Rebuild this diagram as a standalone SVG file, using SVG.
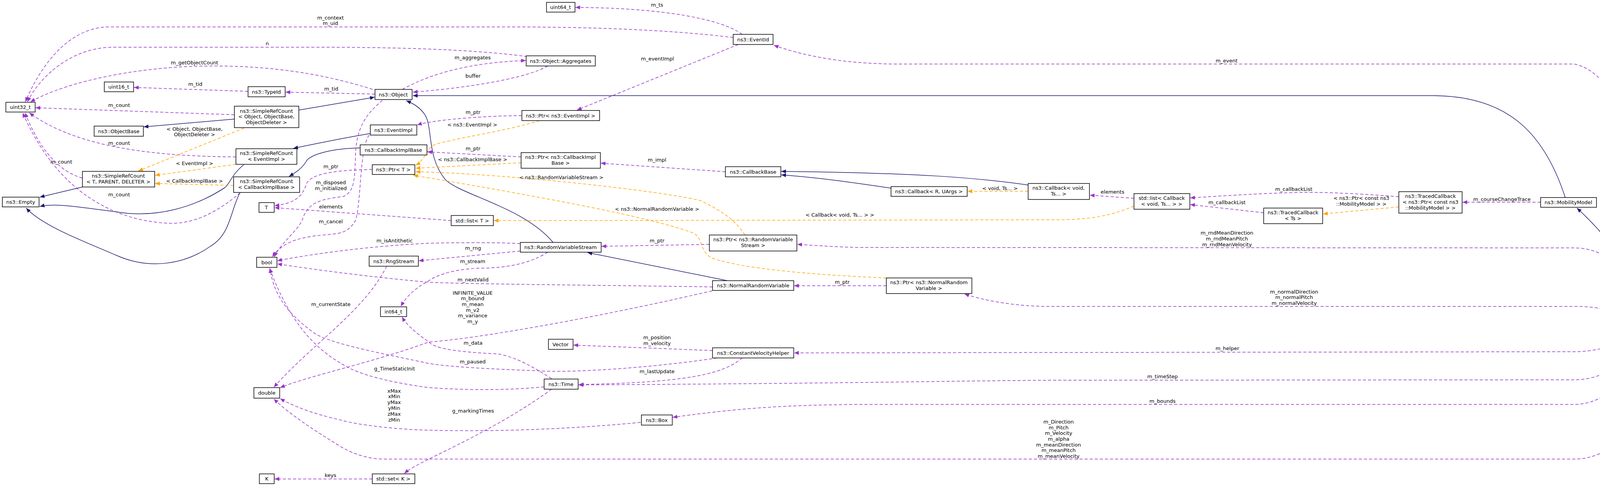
<svg xmlns="http://www.w3.org/2000/svg" width="4339" height="1245" viewBox="0 0 4339 1245">
<defs>
<marker id="mp" viewBox="0 0 12 10" refX="12" refY="5" markerWidth="12" markerHeight="10" markerUnits="userSpaceOnUse" orient="auto"><path d="M0,0 L12,5 L0,10 z" fill="#9a32cd"/></marker>
<marker id="mb" viewBox="0 0 12 10" refX="12" refY="5" markerWidth="12" markerHeight="10" markerUnits="userSpaceOnUse" orient="auto"><path d="M0,0 L12,5 L0,10 z" fill="#191970"/></marker>
<marker id="mo" viewBox="0 0 12 10" refX="12" refY="5" markerWidth="12" markerHeight="10" markerUnits="userSpaceOnUse" orient="auto"><path d="M0,0 L12,5 L0,10 z" fill="#ffa500"/></marker>
</defs>
<style>
text{font-family:"DejaVu Sans","Liberation Sans",sans-serif;font-size:13px;fill:#000;text-anchor:middle}
.n rect{fill:#fff;stroke:#000;stroke-width:1.5}
.u{fill:none;stroke:#9a32cd;stroke-width:1.5;stroke-dasharray:8,5;marker-end:url(#mp)}
.i{fill:none;stroke:#191970;stroke-width:1.5;marker-end:url(#mb)}
.t{fill:none;stroke:#ffa500;stroke-width:1.5;stroke-dasharray:8,5;marker-end:url(#mo)}
</style>
<rect width="4339" height="1245" fill="#fff"/>
<g id="connectors">
<path class="u" d="M1877,96 C1700,75 1500,69 1300,69 L280,69 C160,69 90,200 65,261"/>
<text x="846" y="50">m_context</text><text x="846" y="64">m_uid</text>
<path class="u" d="M1350,145 C1200,125 1000,121 800,121 L290,121 C180,121 100,200 70,261"/>
<text x="684" y="116">n</text>
<path class="u" d="M954,229 C800,180 650,165 491,170 C300,178 150,220 78,261"/>
<text x="498" y="165">m_getObjectCount</text>
<path class="u" d="M635,234 L343,224"/><text x="500" y="220">m_tid</text>
<path class="u" d="M960,241 L731,236"/><text x="848" y="232">m_tid</text>
<path class="u" d="M600,294 L91,276"/><text x="305" y="274">m_count</text>
<path class="u" d="M604,402 C400,400 200,380 75,289"/><text x="305" y="371">m_count</text>
<path class="u" d="M211,456 C150,440 100,380 64,289"/><text x="157" y="419">m_count</text>
<path class="u" d="M615,494 C560,540 500,575 430,572 C300,565 150,500 58,289"/><text x="305" y="503">m_count</text>
<path class="u" d="M1030,229 C1100,190 1200,160 1346,155"/><text x="1210" y="152">m_aggregates</text>
<path class="u" d="M1402,169 C1350,200 1200,225 1057,236"/><text x="1211" y="199">buffer</text>
<path class="u" d="M1900,88 C1850,50 1700,20 1473,19"/><text x="1682" y="17">m_ts</text>
<path class="u" d="M1890,114 L1477,282"/><text x="1683" y="155">m_eventImpl</text>
<path class="u" d="M4232,824 C4215,600 4200,200 4030,164 L2300,164 C2150,164 2050,140 1981,116"/><text x="3140" y="160">m_event</text>
<path class="i" d="M4007,506 C3950,330 3850,245 3666,245 L1057,245"/>
<path class="i" d="M4226,823 C4190,700 4120,610 4037,533"/>
<path class="i" d="M765,282 L959,249"/>
<path class="i" d="M600,305 L368,325"/>
<path class="i" d="M211,479 L102,505"/>
<path class="i" d="M624,422 C590,450 590,470 575,481 C500,530 400,560 300,543 C200,530 140,520 102,529"/>
<path class="i" d="M614,494 C590,540 590,600 540,630 C470,680 380,690 300,655 C220,620 110,580 67,533"/>
<path class="i" d="M948,342 C870,355 800,370 751,380"/>
<path class="i" d="M922,379 C850,380 800,395 786,410 C775,430 760,440 740,452"/>
<path class="i" d="M1416,621 C1340,530 1180,500 1140,460 C1090,400 1110,320 1085,290 C1070,270 1050,262 1040,258"/>
<path class="i" d="M1862,719 L1504,647"/>
<path class="i" d="M2632,474 C2500,455 2350,443 2000,439"/>
<path class="i" d="M2281,482 C2200,470 2100,455 2000,448"/>
<path class="t" d="M625,328 L354,438"/><text x="498" y="335">&lt; Object, ObjectBase,</text><text x="498" y="349">ObjectDeleter &gt;</text>
<path class="t" d="M604,421 L397,449"/><text x="498" y="423">&lt; EventImpl &gt;</text>
<path class="t" d="M598,475 L397,470"/><text x="498" y="468">&lt; CallbackImplBase &gt;</text>
<path class="t" d="M1381,309 C1300,335 1160,355 1114,370 C1090,380 1090,410 1064,423"/><text x="1209" y="324">&lt; ns3::EventImpl &gt;</text>
<path class="t" d="M1334,417 L1064,431"/><text x="1210" y="413">&lt; ns3::CallbackImplBase &gt;</text>
<path class="t" d="M1907,602 C1880,560 1844,539 1794,514 C1700,490 1300,445 1064,440"/><text x="1437" y="459">&lt; ns3::RandomVariableStream &gt;</text>
<path class="t" d="M2269,712 C2100,705 1900,690 1820,660 C1790,640 1800,610 1775,597 C1650,550 1300,490 1058,449"/><text x="1682" y="540">&lt; ns3::NormalRandomVariable &gt;</text>
<path class="t" d="M2903,528 C2850,550 2800,563 2700,563 L1500,565 L1264,565"/><text x="2150" y="555">&lt; Callback&lt; void, Ts... &gt; &gt;</text>
<path class="t" d="M2632,490 L2477,490"/><text x="2560" y="487">&lt; void, Ts... &gt;</text>
<path class="t" d="M3581,530 L3387,548"/><text x="3485" y="512">&lt; ns3::Ptr&lt; const ns3</text><text x="3485" y="527">::MobilityModel &gt; &gt;</text>
<path class="u" d="M1336,296 C1200,298 1100,310 1068,320"/><text x="1211" y="292">m_ptr</text>
<path class="u" d="M1334,402 L1094,389"/><text x="1211" y="385">m_ptr</text>
<path class="u" d="M953,434 C880,436 800,440 785,470 C775,500 760,520 703,527"/><text x="847" y="431">m_ptr</text>
<path class="u" d="M979,257 C940,290 912,323 910,400 C908,470 905,490 880,503 C830,510 790,514 775,560 C765,590 720,620 702,658"/><text x="847" y="472">m_disposed</text><text x="847" y="487">m_initialized</text>
<path class="u" d="M945,346 C920,380 925,520 910,565 C895,590 880,597 850,600 C790,605 730,610 697,658"/><text x="847" y="572">m_cancel</text>
<path class="u" d="M1155,565 L703,532"/><text x="847" y="534">elements</text>
<path class="u" d="M1332,624 C1250,620 1150,622 1100,623 C950,630 800,650 710,668"/><text x="1010" y="621">m_isAntithetic</text>
<path class="u" d="M1332,643 L1072,668"/><text x="1211" y="640">m_rng</text>
<path class="u" d="M1402,646 C1350,680 1280,687 1226,687 C1150,690 1110,710 1098,719 C1060,740 1040,760 1026,785"/><text x="1210" y="674">m_stream</text>
<path class="u" d="M1824,735 C1500,730 1200,728 1098,723 C950,710 800,690 710,676"/><text x="1211" y="721">m_nextValid</text>
<path class="u" d="M1823,745 C1500,820 1200,870 1098,876 C950,930 800,960 717,993"/><text x="1210" y="755">INFINITE_VALUE</text><text x="1210" y="769">m_bound</text><text x="1210" y="784">m_mean</text><text x="1210" y="799">m_v2</text><text x="1210" y="813">m_variance</text><text x="1210" y="828">m_y</text>
<path class="u" d="M990,682 C930,800 800,880 701,992"/><text x="847" y="784">m_currentState</text>
<path class="u" d="M1412,970 C1350,930 1300,906 1261,906 C1150,900 1110,890 1098,876 C1060,850 1040,830 1029,812"/><text x="1211" y="883">m_data</text>
<path class="u" d="M1824,898 L1468,884"/><text x="1682" y="869">m_position</text><text x="1682" y="884">m_velocity</text>
<path class="u" d="M1836,917 C1650,945 1450,955 1381,950 C1250,945 1150,940 1098,931 C950,900 850,880 807,855 C730,800 700,750 691,687"/><text x="1210" y="931">m_paused</text>
<path class="u" d="M1900,917 C1850,960 1750,980 1482,985"/><text x="1682" y="956">m_lastUpdate</text>
<path class="u" d="M1393,991 C1300,1000 1200,1000 1098,993 C1000,980 920,960 880,935 C800,890 740,820 690,687"/><text x="1010" y="949">g_TimeStaticInit</text>
<path class="u" d="M1412,997 C1300,1080 1150,1150 1098,1176 C1070,1190 1050,1200 1035,1213"/><text x="1211" y="1057">g_markingTimes</text>
<path class="u" d="M953,1227 L703,1227"/><text x="846" y="1222">keys</text>
<path class="u" d="M1640,1082 C1400,1105 1200,1105 1098,1102 C1000,1100 900,1085 877,1077 C800,1060 750,1040 717,1021"/><text x="1009" y="1006">xMax</text><text x="1009" y="1020">xMin</text><text x="1009" y="1035">yMax</text><text x="1009" y="1050">yMin</text><text x="1009" y="1065">zMax</text><text x="1009" y="1080">zMin</text>
<path class="u" d="M4224,864 C4210,1000 4180,1176 4028,1176 L982,1176 C940,1176 900,1160 877,1147 C800,1100 740,1060 701,1022"/><text x="2710" y="1085">m_Direction</text><text x="2710" y="1100">m_Pitch</text><text x="2710" y="1114">m_Velocity</text><text x="2710" y="1129">m_alpha</text><text x="2710" y="1144">m_meanDirection</text><text x="2710" y="1158">m_meanPitch</text><text x="2710" y="1173">m_meanVelocity</text>
<path class="u" d="M4215,824 C4180,700 4120,635 4028,635 L2200,634 C2120,632 2080,628 2041,626"/><text x="3141" y="601">m_rndMeanDirection</text><text x="3141" y="616">m_rndMeanPitch</text><text x="3141" y="631">m_rndMeanVelocity</text>
<path class="u" d="M4188,824 C4120,790 4080,785 4035,785 L2685,785 C2600,785 2520,770 2469,753"/><text x="3313" y="752">m_normalDirection</text><text x="3313" y="766">m_normalPitch</text><text x="3313" y="781">m_normalVelocity</text>
<path class="u" d="M4184,864 C4120,890 4080,901 4028,901 L2033,904"/><text x="3142" y="897">m_helper</text>
<path class="u" d="M4213,864 C4150,940 4100,973 4028,973 L2700,974 C2400,976 2200,982 1481,986"/><text x="2976" y="969">m_timeStep</text>
<path class="u" d="M4220,864 C4160,990 4100,1036 4028,1036 L2200,1036 C2000,1038 1900,1045 1722,1069"/><text x="2976" y="1032">m_bounds</text>
<path class="u" d="M1816,626 L1540,631"/><text x="1682" y="621">m_ptr</text>
<path class="u" d="M2269,732 L2033,732"/><text x="2156" y="727">m_ptr</text>
<path class="u" d="M1857,440 L1538,418"/><text x="1682" y="414">m_impl</text>
<path class="u" d="M2903,508 L2790,500"/><text x="2848" y="496">elements</text>
<path class="u" d="M3581,504 C3500,497 3400,493 3376,493 C3300,492 3200,497 3047,507"/><text x="3312" y="489">m_callbackList</text>
<path class="u" d="M3235,545 L3047,524"/><text x="3141" y="523">m_callbackList</text>
<path class="u" d="M3944,518 L3744,518"/><text x="3845" y="515">m_courseChangeTrace</text>
</g>
<g id="uint32_t" class="n"><rect x="15" y="262" width="75" height="25"/><text x="52" y="279">uint32_t</text></g>
<g id="uint16_t" class="n"><rect x="267" y="210" width="75" height="25"/><text x="304" y="227">uint16_t</text></g>
<g id="TypeId" class="n"><rect x="635" y="222" width="95" height="26"/><text x="682" y="240">ns3::TypeId</text></g>
<g id="Object" class="n"><rect x="960" y="229" width="95" height="26"/><text x="1007" y="247">ns3::Object</text></g>
<g id="SRC_Object" class="n"><rect x="600" y="272" width="165" height="55"/><text x="682" y="289">ns3::SimpleRefCount</text><text x="682" y="303">&lt; Object, ObjectBase,</text><text x="682" y="318">ObjectDeleter &gt;</text></g>
<g id="ObjectBase" class="n"><rect x="241" y="323" width="126" height="26"/><text x="304" y="341">ns3::ObjectBase</text></g>
<g id="EventImpl" class="n"><rect x="948" y="320" width="119" height="26"/><text x="1007" y="338">ns3::EventImpl</text></g>
<g id="SRC_EventImpl" class="n"><rect x="604" y="381" width="156" height="40"/><text x="682" y="397">ns3::SimpleRefCount</text><text x="682" y="412">&lt; EventImpl &gt;</text></g>
<g id="CallbackImplBase" class="n"><rect x="922" y="371" width="171" height="26"/><text x="1007" y="389">ns3::CallbackImplBase</text></g>
<g id="SRC_TPD" class="n"><rect x="211" y="439" width="185" height="40"/><text x="303" y="455">ns3::SimpleRefCount</text><text x="303" y="470">&lt; T, PARENT, DELETER &gt;</text></g>
<g id="PtrT" class="n"><rect x="953" y="422" width="109" height="25"/><text x="1007" y="439">ns3::Ptr&lt; T &gt;</text></g>
<g id="SRC_CIB" class="n"><rect x="598" y="453" width="169" height="40"/><text x="682" y="469">ns3::SimpleRefCount</text><text x="682" y="484">&lt; CallbackImplBase &gt;</text></g>
<g id="Empty" class="n"><rect x="6" y="505" width="94" height="25"/><text x="53" y="522">ns3::Empty</text></g>
<g id="T" class="n"><rect x="663" y="519" width="39" height="25"/><text x="682" y="536">T</text></g>
<g id="uint64_t" class="n"><rect x="1399" y="6" width="73" height="25"/><text x="1435" y="23">uint64_t</text></g>
<g id="EventId" class="n"><rect x="1877" y="88" width="102" height="26"/><text x="1928" y="106">ns3::EventId</text></g>
<g id="Aggregates" class="n"><rect x="1347" y="143" width="177" height="26"/><text x="1435" y="161">ns3::Object::Aggregates</text></g>
<g id="PtrEventImpl" class="n"><rect x="1336" y="283" width="199" height="26"/><text x="1435" y="301">ns3::Ptr&lt; ns3::EventImpl &gt;</text></g>
<g id="PtrCIB" class="n"><rect x="1334" y="391" width="203" height="40"/><text x="1435" y="407">ns3::Ptr&lt; ns3::CallbackImpl</text><text x="1435" y="422">Base &gt;</text></g>
<g id="CallbackBase" class="n"><rect x="1857" y="427" width="142" height="26"/><text x="1928" y="445">ns3::CallbackBase</text></g>
<g id="stdlistT" class="n"><rect x="1155" y="552" width="108" height="26"/><text x="1209" y="570">std::list&lt; T &gt;</text></g>
<g id="RVS" class="n"><rect x="1332" y="621" width="207" height="25"/><text x="1435" y="638">ns3::RandomVariableStream</text></g>
<g id="PtrRVS" class="n"><rect x="1816" y="602" width="224" height="41"/><text x="1928" y="618">ns3::Ptr&lt; ns3::RandomVariable</text><text x="1928" y="633">Stream &gt;</text></g>
<g id="CallbackRU" class="n"><rect x="2281" y="478" width="195" height="25"/><text x="2378" y="495">ns3::Callback&lt; R, UArgs &gt;</text></g>
<g id="CallbackVoid" class="n"><rect x="2632" y="470" width="157" height="41"/><text x="2710" y="486">ns3::Callback&lt; void,</text><text x="2710" y="501">Ts... &gt;</text></g>
<g id="stdlistCB" class="n"><rect x="2903" y="496" width="143" height="40"/><text x="2974" y="512">std::list&lt; Callback</text><text x="2974" y="527">&lt; void, Ts... &gt; &gt;</text></g>
<g id="PtrNRV" class="n"><rect x="2269" y="712" width="219" height="40"/><text x="2378" y="728">ns3::Ptr&lt; ns3::NormalRandom</text><text x="2378" y="743">Variable &gt;</text></g>
<g id="GaussMarkov" class="n"><rect x="4139" y="824" width="193" height="40" style="fill:#bfbfbf"/><text x="4235" y="840">ns3::GaussMarkovMobility</text><text x="4235" y="855">Model</text></g>
<g id="TCPtr" class="n"><rect x="3581" y="491" width="162" height="55"/><text x="3662" y="507">ns3::TracedCallback</text><text x="3662" y="522">&lt; ns3::Ptr&lt; const ns3</text><text x="3662" y="537">::MobilityModel &gt; &gt;</text></g>
<g id="TCTs" class="n"><rect x="3235" y="533" width="151" height="40"/><text x="3310" y="549">ns3::TracedCallback</text><text x="3310" y="564">&lt; Ts &gt;</text></g>
<g id="MobilityModel" class="n"><rect x="3944" y="506" width="143" height="25"/><text x="4015" y="523">ns3::MobilityModel</text></g>
<g id="bool" class="n"><rect x="657" y="659" width="52" height="26"/><text x="683" y="677">bool</text></g>
<g id="RngStream" class="n"><rect x="945" y="656" width="126" height="26"/><text x="1008" y="674">ns3::RngStream</text></g>
<g id="int64_t" class="n"><rect x="974" y="786" width="67" height="25"/><text x="1007" y="803">int64_t</text></g>
<g id="double" class="n"><rect x="650" y="993" width="66" height="27"/><text x="683" y="1011">double</text></g>
<g id="K" class="n"><rect x="664" y="1214" width="38" height="25"/><text x="683" y="1231">K</text></g>
<g id="stdsetK" class="n"><rect x="953" y="1214" width="109" height="25"/><text x="1007" y="1231">std::set&lt; K &gt;</text></g>
<g id="NRV" class="n"><rect x="1824" y="719" width="208" height="25"/><text x="1928" y="736">ns3::NormalRandomVariable</text></g>
<g id="Vector" class="n"><rect x="1404" y="869" width="63" height="26"/><text x="1435" y="887">Vector</text></g>
<g id="CVH" class="n"><rect x="1824" y="891" width="208" height="26"/><text x="1928" y="909">ns3::ConstantVelocityHelper</text></g>
<g id="Time" class="n"><rect x="1393" y="971" width="87" height="26"/><text x="1436" y="989">ns3::Time</text></g>
<g id="Box" class="n"><rect x="1642" y="1063" width="79" height="26"/><text x="1681" y="1081">ns3::Box</text></g>
</svg>
